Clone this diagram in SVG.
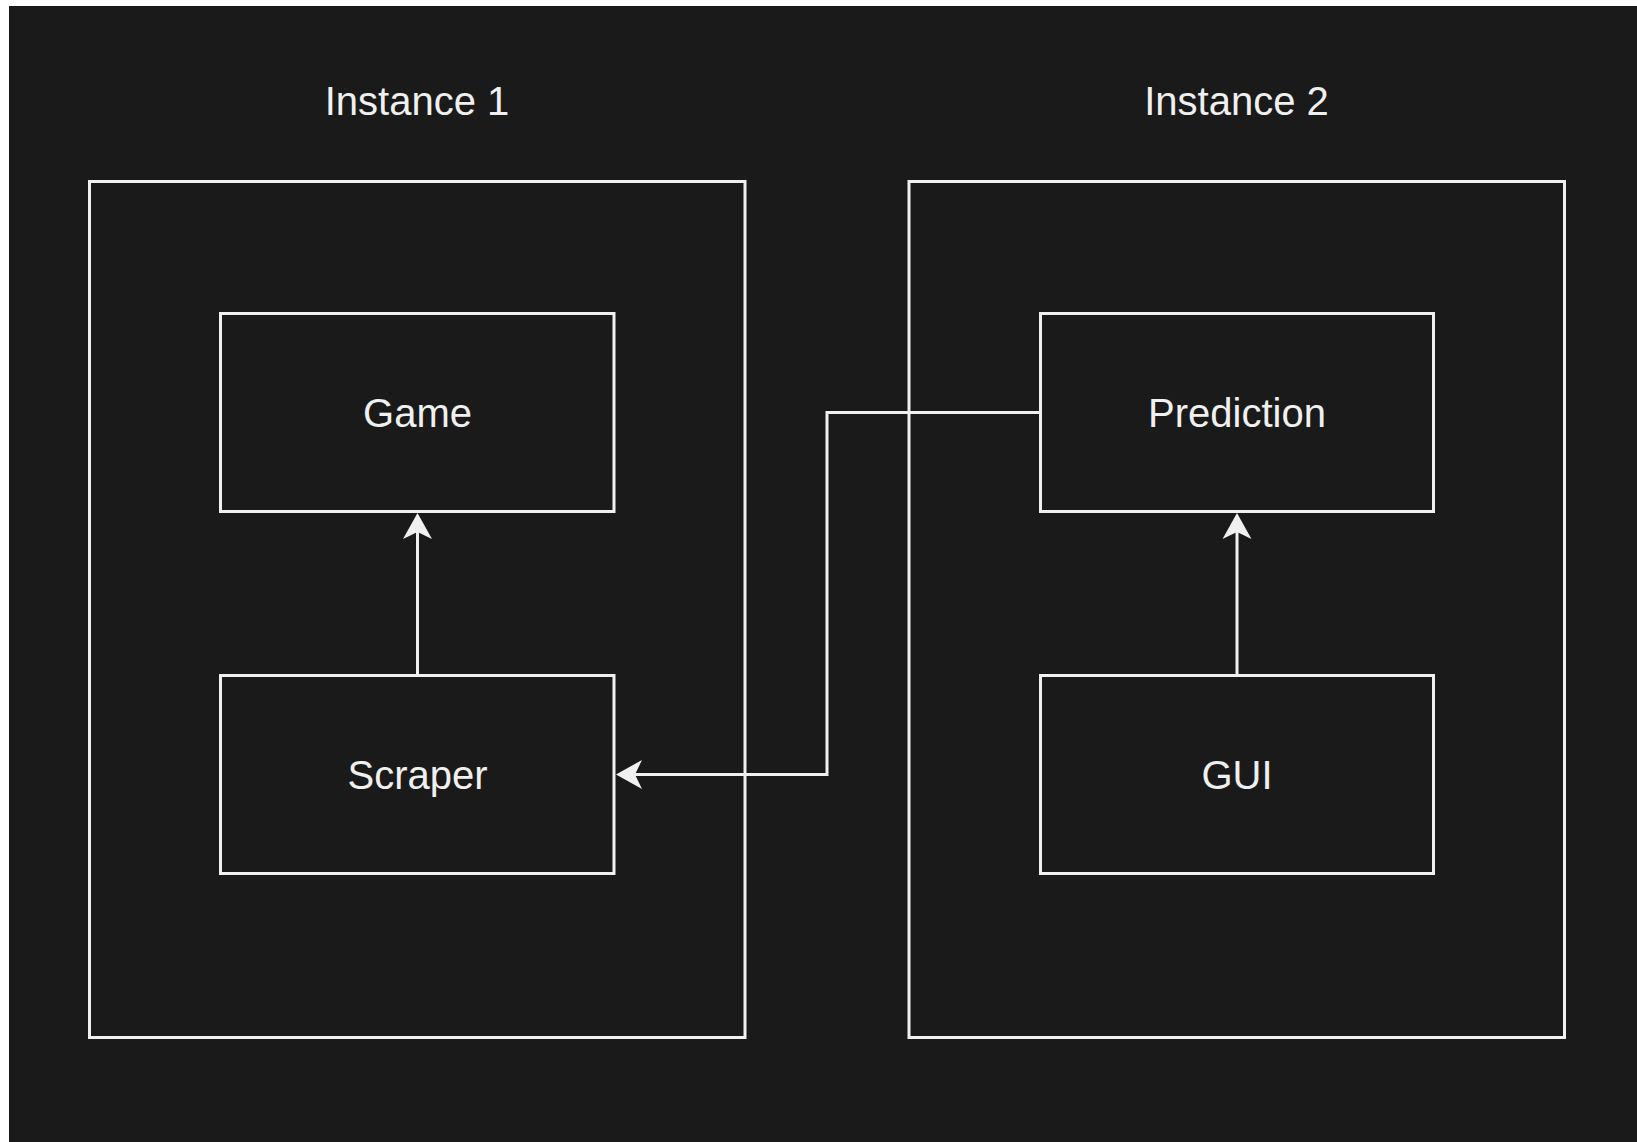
<svg xmlns="http://www.w3.org/2000/svg" width="1637" height="1142" viewBox="0 0 1637 1142">
  <style>
    .frame { fill: #1a1a1a; stroke: #f0f0f0; stroke-width: 3; }
    .box { fill: #1a1a1a; stroke: #f0f0f0; stroke-width: 3; }
    .label { font-family: "Liberation Sans", Arial, sans-serif; font-size: 40px; fill: #f0f0f0; text-anchor: middle; }
    .edge { fill: none; stroke: #f0f0f0; stroke-width: 3; marker-end: url(#arrow); }
  </style>
  <defs>
    <marker id="arrow" markerUnits="userSpaceOnUse" viewBox="-10 -16 30 32" markerWidth="30" markerHeight="32" refX="0" refY="0" orient="auto" overflow="visible">
      <path d="M18,0 L-8,-14.5 L-1,0 L-8,14.5 Z" fill="#f0f0f0" stroke="none"/>
    </marker>
  </defs>

  <!-- page -->
  <rect x="0" y="0" width="1637" height="1142" fill="#ffffff"/>
  <rect x="9" y="6" width="1628" height="1136" fill="#1a1a1a"/>

  <!-- instance containers -->
  <g id="instance1">
    <rect class="frame" x="89.5" y="181.5" width="655.5" height="856"/>
    <text class="label" x="417" y="115">Instance 1</text>
  </g>
  <g id="instance2">
    <rect class="frame" x="909" y="181.5" width="655.5" height="856"/>
    <text class="label" x="1236.5" y="115">Instance 2</text>
  </g>

  <!-- components -->
  <g id="game">
    <rect class="box" x="220.5" y="313.5" width="393.5" height="198"/>
    <text class="label" x="417.5" y="427">Game</text>
  </g>
  <g id="scraper">
    <rect class="box" x="220.5" y="675.5" width="393.5" height="198"/>
    <text class="label" x="417.5" y="789">Scraper</text>
  </g>
  <g id="prediction">
    <rect class="box" x="1040.5" y="313.5" width="393" height="198"/>
    <text class="label" x="1237" y="427">Prediction</text>
  </g>
  <g id="gui">
    <rect class="box" x="1040.5" y="675.5" width="393" height="198"/>
    <text class="label" x="1237" y="789">GUI</text>
  </g>

  <!-- connectors -->
  <g id="connectors">
    <path class="edge" d="M417.5,675.5 V531"/>
    <path class="edge" d="M1237,675.5 V531"/>
    <path class="edge" d="M1040.5,412.5 H827 V774.5 H634"/>
  </g>
</svg>
